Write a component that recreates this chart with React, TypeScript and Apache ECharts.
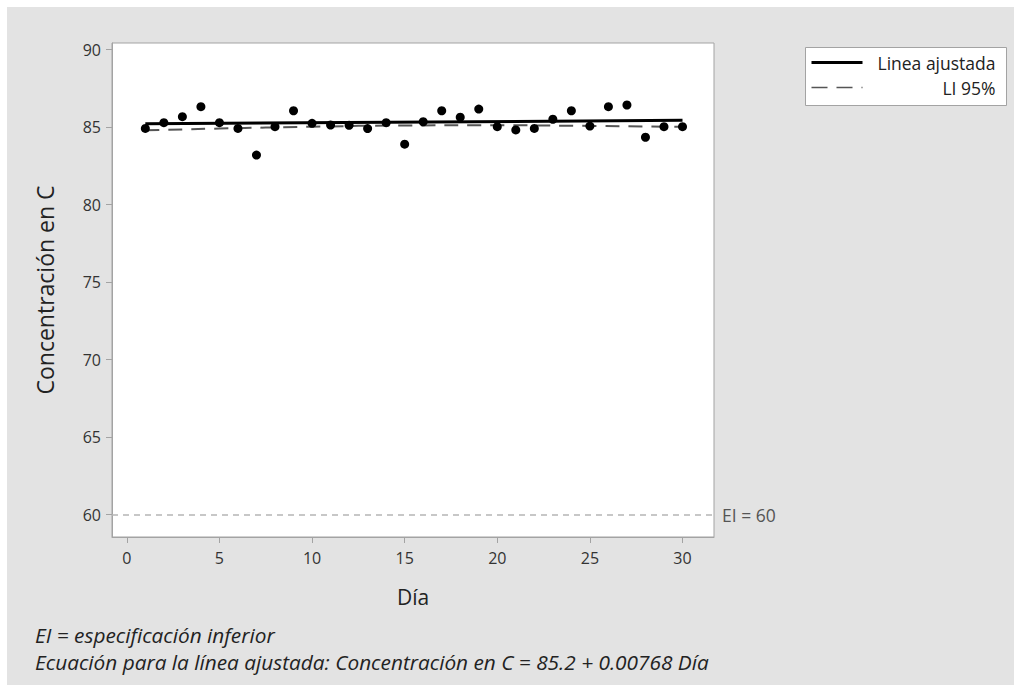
import React, { useEffect, useRef } from "react";
import * as echarts from "echarts";

// Daily concentration measurements (stability study)
const days = [1, 2, 3, 4, 5, 6, 7, 8, 9, 10, 11, 12, 13, 14, 15, 16, 17, 18, 19, 20, 21, 22, 23, 24, 25, 26, 27, 28, 29, 30];
const concentration = [
  84.91, 85.28, 85.67, 86.31, 85.28, 84.91, 83.19, 85.02, 86.05, 85.24,
  85.13, 85.11, 84.9, 85.28, 83.89, 85.34, 86.05, 85.63, 86.16, 85.02,
  84.81, 84.91, 85.5, 86.05, 85.06, 86.31, 86.42, 84.34, 85.02, 85.02,
];

// Fitted regression line: Concentración en C = 85.2 + 0.00768 Día
const fitIntercept = 85.2;
const fitSlope = 0.00768;
const fitDays = [1, 30];

// Lower 95% confidence bound of the fitted line
const liDays = [1, 5, 10, 15, 20, 25, 30];
const liValues = [84.79, 84.9, 85.02, 85.1, 85.11, 85.07, 85.01];

// Lower specification
const lowerSpec = 60;

const seriesNames = ["Linea ajustada", "LI 95%"];
const footnotes = [
  "EI = especificación inferior",
  "Ecuación para la línea ajustada: Concentración en C = 85.2 + 0.00768 Día",
];

const FONT = "'Open Sans', 'Noto Sans', sans-serif";

export default function App() {
  const ref = useRef<HTMLDivElement>(null);

  useEffect(() => {
    if (!ref.current) return;
    const chart = echarts.init(ref.current, undefined, { renderer: "svg" });

    const fitData = fitDays.map((d) => [d, fitIntercept + fitSlope * d]);
    const liData = liDays.map((d, i) => [d, liValues[i]]);
    const pts = days.map((d, i) => [d, concentration[i]]);

    const axisLine = { show: true, onZero: false, lineStyle: { color: "#a3a3a3", width: 1 } };

    chart.setOption({
      animation: false,
      backgroundColor: "#e3e3e3",
      textStyle: { fontFamily: FONT },
      grid: { left: 105, top: 36, right: 300, bottom: 148, backgroundColor: "#ffffff", show: true, borderColor: "#a3a3a3", borderWidth: 1 },
      xAxis: {
        type: "value",
        min: -0.8,
        max: 31.7,
        splitNumber: 7,
        name: "Día",
        nameLocation: "middle",
        nameGap: 49,
        nameTextStyle: { fontSize: 21, color: "#222", fontFamily: FONT },
        axisLine,
        axisTick: { show: true, length: 6, lineStyle: { color: "#a3a3a3" } },
        axisLabel: { showMinLabel: false, showMaxLabel: false, fontSize: 16, color: "#333", margin: 13, fontFamily: FONT },
        splitLine: { show: false },
      },
      yAxis: {
        type: "value",
        min: 58.55,
        max: 90.42,
        splitNumber: 6,
        name: "Concentración en C",
        nameLocation: "middle",
        nameGap: 56,
        nameTextStyle: { fontSize: 23, color: "#222", fontFamily: FONT },
        axisLine,
        axisTick: { show: true, length: 6, lineStyle: { color: "#a3a3a3" } },
        axisLabel: { showMinLabel: false, showMaxLabel: false, fontSize: 16, color: "#333", margin: 11, fontFamily: FONT },
        splitLine: { show: false },
      },
      series: [
        {
          name: seriesNames[1],
          type: "line",
          data: liData,
          smooth: true,
          showSymbol: false,
          lineStyle: { color: "#555555", width: 2, type: [14, 9] },
          z: 2,
          markLine: {
            silent: true,
            symbol: "none",
            lineStyle: { color: "#b5b5b5", width: 1.5, type: [6, 5] },
            label: { position: "end", formatter: "EI = " + lowerSpec, color: "#555", fontSize: 17.5, distance: 8, fontFamily: FONT },
            data: [{ yAxis: lowerSpec }],
          },
        },
        {
          name: seriesNames[0],
          type: "line",
          data: fitData,
          showSymbol: false,
          lineStyle: { color: "#000000", width: 3 },
          z: 3,
        },
        {
          type: "scatter",
          data: pts,
          symbol: "circle",
          symbolSize: 9,
          itemStyle: { color: "#000000", opacity: 1 },
          z: 4,
        },
      ],
      graphic: [
        {
          type: "group",
          left: 798,
          top: 40,
          children: [
            { type: "rect", shape: { x: 0, y: 0, width: 201, height: 58 }, style: { fill: "#ffffff", stroke: "#a3a3a3", lineWidth: 1 } },
            { type: "line", shape: { x1: 6, y1: 15, x2: 57, y2: 15 }, style: { stroke: "#000", lineWidth: 3 } },
            { type: "line", shape: { x1: 6, y1: 40, x2: 57, y2: 40 }, style: { stroke: "#555", lineWidth: 1.6, lineDash: [16, 9] } },
            { type: "text", style: { x: 190, y: 15, text: seriesNames[0], align: "right", verticalAlign: "middle", fontSize: 17.5, fill: "#222", fontFamily: FONT } },
            { type: "text", style: { x: 190, y: 40, text: seriesNames[1], align: "right", verticalAlign: "middle", fontSize: 17.5, fill: "#222", fontFamily: FONT } },
          ],
        },
        {
          type: "text",
          left: 28,
          top: 617,
          style: { text: footnotes[0], fontSize: 20.8, fontStyle: "italic", fill: "#222", fontFamily: FONT },
        },
        {
          type: "text",
          left: 28,
          top: 644,
          style: { text: footnotes[1], fontSize: 20.8, fontStyle: "italic", fill: "#222", fontFamily: FONT },
        },
      ],
    });

    return () => chart.dispose();
  }, []);

  return (
    <div
      ref={ref}
      style={{ position: "fixed", left: 7, top: 7, width: 1007, height: 678 }}
    />
  );
}
